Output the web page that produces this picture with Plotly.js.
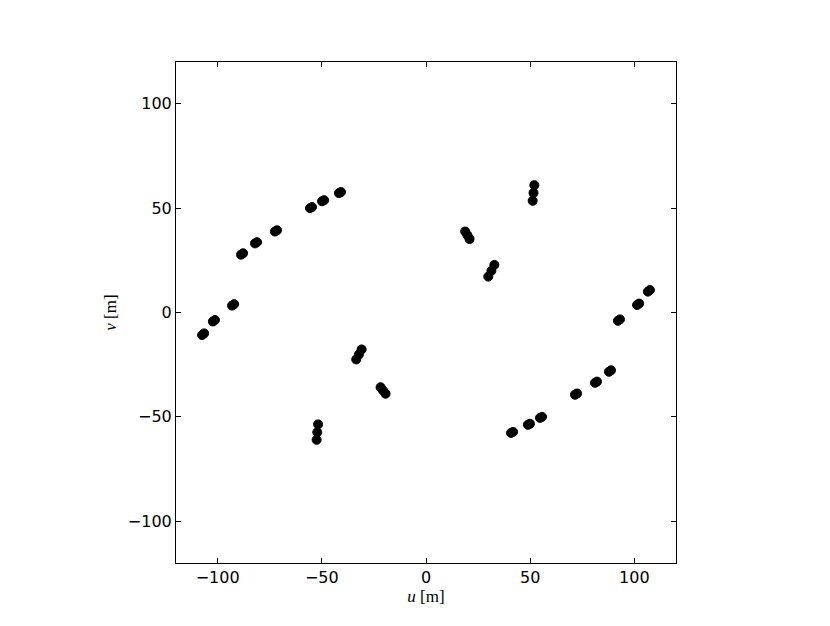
<!DOCTYPE html>
<html><head><meta charset="utf-8">
<script src="https://cdn.plot.ly/plotly-3.0.1.min.js"></script>
<style>body{margin:0;background:#fff}#plot{width:830px;height:626px}</style>
</head><body><div id="plot"></div>
<script>
// uv sample points [m]
const uValues = [
  -107.5,-106.5, -102.3,-101.3, -93.1,-92.1, -88.8,-87.8, -82.1,-81.1, -72.5,-71.5,
  -55.7,-54.7, -49.9,-48.9, -41.8,-40.8,
  107.5,106.5, 102.3,101.3, 93.1,92.1, 88.8,87.8, 82.1,81.1, 72.5,71.5,
  55.7,54.7, 49.9,48.9, 41.8,40.8,
  -30.9,-32.2,-33.5, -21.8,-20.6,-19.4, -51.8,-52.2,-52.5,
  32.8,31.4,29.9, 18.8,19.9,20.9, 52.0,51.6,51.2
];
const vValues = [
  -10.8,-10.0, -4.3,-3.6, 3.3,4.0, 27.7,28.4, 33.1,33.7, 38.8,39.4,
  50.0,50.5, 53.3,53.8, 57.2,57.7,
  10.8,10.0, 4.3,3.6, -3.3,-4.0, -27.7,-28.4, -33.1,-33.7, -38.8,-39.4,
  -50.0,-50.5, -53.3,-53.8, -57.2,-57.7,
  -17.7,-20.1,-22.5, -35.8,-37.4,-38.9, -53.6,-57.4,-61.0,
  22.8,20.0,17.2, 38.8,37.0,35.2, 61.0,57.3,53.5
];
const tickVals = [-100,-50,0,50,100];

const trace = {
  x: uValues, y: vValues, type: 'scatter', mode: 'markers',
  marker: {color: '#000', size: 9, line: {color: '#000', width: 1}},
  hoverinfo: 'skip'
};
const axisCommon = {
  range: [-120,120], tickvals: tickVals, ticks: 'inside', ticklen: 5, tickwidth: 1,
  tickcolor: '#000', showline: true, linecolor: '#000', linewidth: 1, mirror: 'ticks',
  showgrid: false, zeroline: false, tickfont: {family: 'DejaVu Sans', size: 16, color: '#000'}
};
const layout = {
  width: 830, height: 626,
  margin: {l: 176, r: 154, t: 62, b: 63, pad: 0},
  paper_bgcolor: '#fff', plot_bgcolor: '#fff', showlegend: false,
  xaxis: Object.assign({}, axisCommon, {
    title: {text: '<i>u</i> [m]', font: {family: 'Liberation Serif', size: 17, color: '#000'}, standoff: 3}
  }),
  yaxis: Object.assign({}, axisCommon, {
    title: {text: '<i>v</i> [m]', font: {family: 'Liberation Serif', size: 17, color: '#000'}, standoff: 6}
  })
};
Plotly.newPlot('plot', [trace], layout, {staticPlot: true});
</script></body></html>
